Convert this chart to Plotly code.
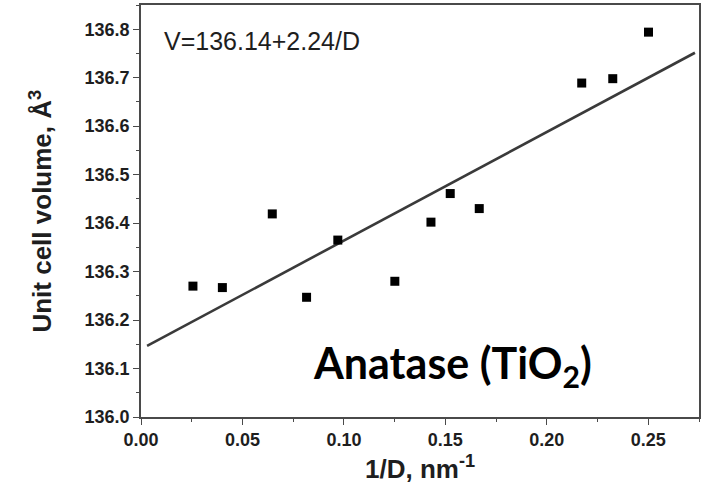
import plotly.graph_objects as go

# Data
inv_d = [0.0256, 0.0401, 0.0647, 0.0816, 0.0970, 0.1251, 0.1429, 0.1524, 0.1667, 0.2172, 0.2325, 0.2501]
volume = [136.270, 136.267, 136.419, 136.247, 136.365, 136.280, 136.402, 136.461, 136.430, 136.689, 136.698, 136.794]

# Linear fit shown on chart: V = 136.14 + 2.24/D
fit_intercept = 136.14
fit_slope = 2.24
fit_x = [0.003, 0.273]
fit_y = [fit_intercept + fit_slope * v for v in fit_x]

x_ticks = [0.00, 0.05, 0.10, 0.15, 0.20, 0.25]
x_tick_labels = ["0.00", "0.05", "0.10", "0.15", "0.20", "0.25"]
y_ticks = [136.0, 136.1, 136.2, 136.3, 136.4, 136.5, 136.6, 136.7, 136.8]
y_tick_labels = ["136.0", "136.1", "136.2", "136.3", "136.4", "136.5", "136.6", "136.7", "136.8"]

AX = "#4a4a4a"
TXT = "#1e1e1e"
FONT = "Liberation Sans, Arial, sans-serif"

fig = go.Figure()
fig.add_trace(go.Scatter(
    x=fit_x, y=fit_y, mode="lines",
    line=dict(color="#3a3a3a", width=2.6), showlegend=False, hoverinfo="skip"))
fig.add_trace(go.Scatter(
    x=inv_d, y=volume, mode="markers",
    marker=dict(symbol="square", size=9, color="#000000", line=dict(width=0)),
    showlegend=False))

axis_common = dict(
    showgrid=False, zeroline=False, showline=True, linecolor=AX, linewidth=1.6,
    mirror=True, ticks="outside", ticklen=6, tickwidth=1.4, tickcolor=AX,
    tickfont=dict(family=FONT, size=18, color=TXT, weight="bold"),
)

fig.update_xaxes(
    range=[0, 0.275], tickmode="array", tickvals=x_ticks, ticktext=x_tick_labels,
    minor=dict(dtick=0.025, ticks="outside", ticklen=3, tickwidth=1.2, tickcolor=AX, tick0=0),
    **axis_common)
fig.update_yaxes(
    range=[136.0, 136.85], tickmode="array", tickvals=y_ticks, ticktext=y_tick_labels,
    minor=dict(dtick=0.05, ticks="outside", ticklen=3, tickwidth=1.2, tickcolor=AX, tick0=136.0),
    **axis_common)

fig.add_annotation(
    xref="paper", yref="paper", x=0.5, y=-0.122, yanchor="middle", xanchor="center",
    text="1/D, nm<sup>-1</sup>", showarrow=False,
    font=dict(family=FONT, size=26, color=TXT, weight="bold"))
fig.add_annotation(
    xref="paper", yref="paper", x=-0.18, y=0.5, xanchor="center", yanchor="middle",
    text="Unit cell volume, Å<sup>3</sup>", textangle=-90, showarrow=False,
    font=dict(family=FONT, size=26, color=TXT, weight="bold"))
fig.add_annotation(
    xref="x", yref="y", x=0.0105, y=136.776, xanchor="left", yanchor="middle",
    text="V=136.14+2.24/D", showarrow=False,
    font=dict(family=FONT, size=25, color=TXT))
fig.add_annotation(
    xref="x", yref="y", x=0.084, y=136.106, xanchor="left", yanchor="middle",
    text="Anatase (TiO<sub>2</sub>)", showarrow=False,
    font=dict(family="Lato, Open Sans, sans-serif", size=43, color="#000000", weight="bold"))

fig.update_layout(
    width=713, height=499,
    margin=dict(l=141, r=14, t=3, b=82, pad=0),
    plot_bgcolor="white", paper_bgcolor="white",
)

fig.write_html("out.html")
